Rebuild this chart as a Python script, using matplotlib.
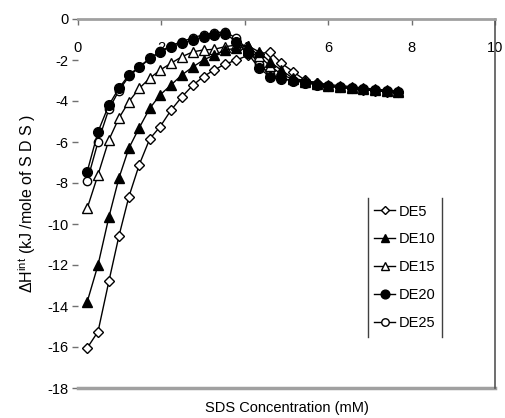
import matplotlib
matplotlib.use("Agg")
import matplotlib.pyplot as plt
from matplotlib.lines import Line2D

fam = "Liberation Sans"
plt.rcParams['font.family'] = [fam, 'DejaVu Sans']
plt.rcParams['mathtext.fontset'] = 'custom'
plt.rcParams['mathtext.rm'] = fam

x = [0.22, 0.48, 0.74, 0.98, 1.22, 1.47, 1.72, 1.97, 2.23, 2.49, 2.76, 3.01, 3.26, 3.53,
     3.80, 4.07, 4.34, 4.61, 4.88, 5.16, 5.44, 5.72, 6.00, 6.28, 6.56, 6.84, 7.12, 7.40, 7.68]

de5 = [-16.05, -15.25, -12.8, -10.6, -8.67, -7.1, -5.85, -5.25, -4.45, -3.8, -3.22, -2.81,
       -2.49, -2.2, -2.0, -1.78, -1.7, -1.6, -2.16, -2.57, -2.98, -3.14, -3.27, -3.33,
       -3.38, -3.45, -3.5, -3.54, -3.58]
de10 = [-13.8, -12.0, -9.67, -7.77, -6.3, -5.3, -4.36, -3.7, -3.22, -2.73, -2.33, -2.0,
        -1.76, -1.51, -1.43, -1.3, -1.6, -2.1, -2.5, -2.9, -3.0, -3.1, -3.2, -3.25,
        -3.3, -3.37, -3.42, -3.47, -3.52]
de15 = [-9.24, -7.6, -5.9, -4.84, -4.03, -3.38, -2.89, -2.49, -2.16, -1.84, -1.6, -1.51,
        -1.48, -1.35, -1.27, -1.3, -1.8, -2.3, -2.7, -2.95, -3.05, -3.15, -3.25, -3.3,
        -3.35, -3.42, -3.47, -3.52, -3.56]
de20 = [-7.45, -5.5, -4.2, -3.38, -2.73, -2.33, -1.92, -1.6, -1.35, -1.19, -1.02, -0.86,
        -0.78, -0.72, -1.1, -1.67, -2.4, -2.81, -2.94, -3.0, -3.1, -3.2, -3.28, -3.33,
        -3.38, -3.43, -3.48, -3.52, -3.56]
de25 = [-7.9, -6.0, -4.4, -3.5, -2.8, -2.35, -1.95, -1.58, -1.3, -1.1, -0.92, -0.76,
        -0.68, -0.62, -0.95, -1.5, -2.2, -2.7, -2.9, -3.0, -3.1, -3.2, -3.28, -3.33,
        -3.38, -3.43, -3.48, -3.52, -3.56]

labels = ["DE5", "DE10", "DE15", "DE20", "DE25"]
series = [de5, de10, de15, de20, de25]
markers = ["D", "^", "^", "o", "o"]
filled = [False, True, False, True, False]
msizes = [5, 7, 7, 7, 6]
zorders = [2.2, 2.8, 2.4, 2.6, 2.0]

xticks = [0, 2, 4, 6, 8, 10]
yticks = [0, -2, -4, -6, -8, -10, -12, -14, -16, -18]

fig = plt.figure(figsize=(5.05, 4.18), dpi=100)
ax = fig.add_axes([78 / 505, 1 - 388 / 418, (495 - 78) / 505, (388 - 19) / 418])

for lab, ys, m, f, ms, z in zip(labels, series, markers, filled, msizes, zorders):
    ax.plot(x, ys, color='black', lw=1.0, marker=m, ms=ms,
            mfc='black' if f else 'white', mec='black', mew=1.0, label=lab, zorder=z)

ax.set_xlim(0, 10)
ax.set_ylim(-18, 0)
ax.set_xticks(xticks)
ax.set_yticks(yticks)
ax.set_xticklabels([str(v) for v in xticks])
ax.set_yticklabels([str(v) for v in yticks])

gray = '#a0a0a0'
ax.spines['bottom'].set_position(('data', 0))
ax.spines['bottom'].set_color(gray)
ax.spines['bottom'].set_linewidth(2)
ax.spines['top'].set_visible(False)
ax.spines['left'].set_visible(False)
ax.spines['right'].set_color('#555555')
ax.spines['right'].set_linewidth(1.2)
ax.axhline(-18, color=gray, lw=2.5, clip_on=False)

ax.tick_params(axis='x', direction='out', length=4, width=1, color='#707070',
               labelsize=10.5, pad=12)
ax.tick_params(axis='y', direction='out', length=4, width=1, color='#707070',
               labelsize=10.5, pad=3)

ax.set_xlabel("SDS Concentration (mM)", fontsize=10.5, labelpad=0)
ax.xaxis.set_label_coords(0.5, -0.035)
ax.set_ylabel(r"$\Delta$H$^{\mathrm{int}}$ (kJ /mole of S D S )", fontsize=11.5)
ax.yaxis.set_label_coords(-0.095, 0.5)

leg = ax.legend(loc='upper left', bbox_to_anchor=(0.695, 0.515), frameon=False,
                fontsize=10.5, handlelength=1.4, handletextpad=0.25, labelspacing=0.95,
                borderaxespad=0, borderpad=0.45, markerscale=0.9)

fig.canvas.draw()
bb = leg.get_window_extent().transformed(fig.transFigure.inverted())
for xx in (bb.x0, bb.x1):
    fig.add_artist(Line2D([xx, xx], [bb.y0, bb.y1], color='#404040', lw=1.0,
                          transform=fig.transFigure))

fig.savefig("out.png", dpi=100)
